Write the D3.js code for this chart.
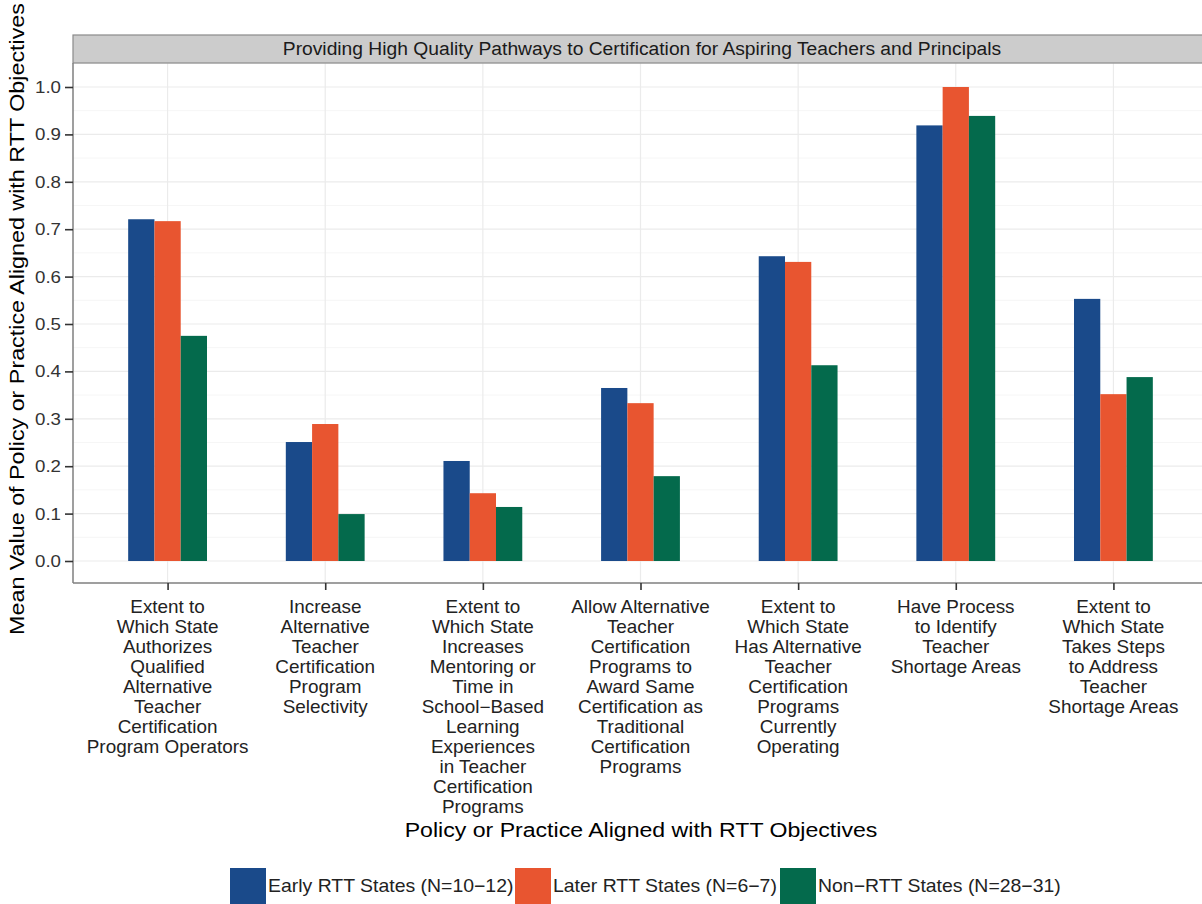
<!DOCTYPE html>
<html>
<head>
<meta charset="utf-8">
<script src="https://cdn.jsdelivr.net/npm/d3@7"></script>
<style>
  body { margin: 0; background: #fff; }
  svg { display: block; font-family: "Liberation Sans", Arial, sans-serif; }
</style>
</head>
<body>
<svg id="chart" width="1202" height="904"></svg>
<script>
// data
const categories = [
  'Extent to|Which State|Authorizes|Qualified|Alternative|Teacher|Certification|Program Operators',
  'Increase|Alternative|Teacher|Certification|Program|Selectivity',
  'Extent to|Which State|Increases|Mentoring or|Time in|School\u2212Based|Learning|Experiences|in Teacher|Certification|Programs',
  'Allow Alternative|Teacher|Certification|Programs to|Award Same|Certification as|Traditional|Certification|Programs',
  'Extent to|Which State|Has Alternative|Teacher|Certification|Programs|Currently|Operating',
  'Have Process|to Identify|Teacher|Shortage Areas',
  'Extent to|Which State|Takes Steps|to Address|Teacher|Shortage Areas'
];
const seriesNames = ['Early RTT States (N=10\u221212)', 'Later RTT States (N=6\u22127)', 'Non\u2212RTT States (N=28\u221231)'];
const seriesColors = ['#1a4a8a', '#e85530', '#046a4c'];
const earlyRTT = [0.721, 0.251, 0.211, 0.365, 0.643, 0.919, 0.553];
const laterRTT = [0.717, 0.289, 0.143, 0.333, 0.631, 1.0, 0.352];
const nonRTT   = [0.475, 0.099, 0.114, 0.179, 0.413, 0.939, 0.388];
const yTicks = [0, 0.1, 0.2, 0.3, 0.4, 0.5, 0.6, 0.7, 0.8, 0.9, 1.0];
const stripTitle = 'Providing High Quality Pathways to Certification for Aspiring Teachers and Principals';

const values = [earlyRTT, laterRTT, nonRTT];
const svg = d3.select('#chart');

const panel = { left: 73, right: 1208, top: 63, bottom: 583 };

// text in the source is a bit wider than Liberation Sans, so stretch it
function label(parent, tx, ty, size, sx, anchor, str) {
  return parent.append('g')
    .attr('transform', `translate(${tx},${ty}) scale(${sx},1)`)
    .append('text')
    .attr('text-anchor', anchor).attr('font-size', size)
    .text(str);
}

// discrete scale with ggplot-style 0.6 expansion
const step = (panel.right - panel.left) / (categories.length - 1 + 1.2);
const x = d3.scalePoint()
  .domain(d3.range(categories.length))
  .range([panel.left + 0.6 * step, panel.right - 0.6 * step]);
const y = d3.scaleLinear().domain([0, 1]).range([561, 87]);
const barW = step * 0.5 / 3;

// grid
const minor = d3.range(0.05, 1.06, 0.1);
svg.append('g').selectAll('line').data(minor).enter().append('line')
  .attr('x1', panel.left).attr('x2', panel.right)
  .attr('y1', d => y(d)).attr('y2', d => y(d))
  .attr('stroke', '#f6f6f6').attr('stroke-width', 1);
svg.append('g').selectAll('line').data(yTicks).enter().append('line')
  .attr('x1', panel.left).attr('x2', panel.right)
  .attr('y1', d => y(d)).attr('y2', d => y(d))
  .attr('stroke', '#ebebeb').attr('stroke-width', 1.2);
svg.append('g').selectAll('line').data(d3.range(categories.length)).enter().append('line')
  .attr('x1', d => x(d)).attr('x2', d => x(d))
  .attr('y1', panel.top).attr('y2', panel.bottom)
  .attr('stroke', '#ebebeb').attr('stroke-width', 1.2);

// bars
values.forEach((vals, si) => {
  svg.append('g').selectAll('rect').data(vals).enter().append('rect')
    .attr('x', (d, i) => x(i) - 1.5 * barW + si * barW)
    .attr('y', d => y(d))
    .attr('width', barW)
    .attr('height', d => y(0) - y(d))
    .attr('fill', seriesColors[si]);
});

// strip
svg.append('rect')
  .attr('x', panel.left).attr('y', 35)
  .attr('width', panel.right - panel.left).attr('height', 28)
  .attr('fill', '#cccccc').attr('stroke', '#8a8a8a').attr('stroke-width', 1.2);
label(svg, 642, 55, 18, 1.07, 'middle', stripTitle).attr('fill', '#1a1a1a');

// axis lines
svg.append('line').attr('x1', panel.left).attr('x2', panel.left)
  .attr('y1', panel.top).attr('y2', panel.bottom)
  .attr('stroke', '#7f7f7f').attr('stroke-width', 1.5);
svg.append('line').attr('x1', panel.left).attr('x2', panel.right)
  .attr('y1', panel.bottom).attr('y2', panel.bottom)
  .attr('stroke', '#7f7f7f').attr('stroke-width', 1.5);

// y axis (ticks from d3, labels drawn stretched)
const yAxis = svg.append('g')
  .attr('transform', `translate(${panel.left},0)`)
  .call(d3.axisLeft(y).tickValues(yTicks).tickFormat('').tickSize(8));
yAxis.select('.domain').remove();
yAxis.selectAll('line').attr('stroke', '#333').attr('stroke-width', 1.6);
const yLab = svg.append('g');
yTicks.forEach(t => {
  label(yLab, 61, y(t) + 6, 17, 1.1, 'end', d3.format('.1f')(t)).attr('fill', '#333');
});

// x axis
const xAxis = svg.append('g')
  .attr('transform', `translate(0,${panel.bottom})`)
  .call(d3.axisBottom(x).tickSize(7).tickFormat(''));
xAxis.select('.domain').remove();
xAxis.selectAll('line').attr('stroke', '#333').attr('stroke-width', 1.6);

categories.forEach((c, i) => {
  const t = label(svg, x(i), 613, 17.5, 1.08, 'middle', null).attr('fill', '#222');
  t.selectAll('tspan').data(c.split('|')).enter().append('tspan')
    .attr('x', 0).attr('dy', (s, j) => j === 0 ? 0 : 20)
    .text(s => s);
});

// axis titles
label(svg, 641, 837, 21, 1.1, 'middle', 'Policy or Practice Aligned with RTT Objectives').attr('fill', '#000');
svg.append('g')
  .attr('transform', 'translate(24,319) rotate(-90) scale(1.11,1)')
  .append('text')
  .attr('text-anchor', 'middle').attr('font-size', 21).attr('fill', '#000')
  .text('Mean Value of Policy or Practice Aligned with RTT Objectives');

// legend
const legendX = [230, 515, 780];
const lg = svg.append('g').selectAll('g').data(seriesNames).enter().append('g')
  .attr('transform', (d, i) => `translate(${legendX[i]},868)`);
lg.append('rect').attr('width', 36).attr('height', 36)
  .attr('fill', (d, i) => seriesColors[i]);
lg.each(function (d) {
  label(d3.select(this), 38, 24, 18, 1.08, 'start', d).attr('fill', '#222');
});
</script>
</body>
</html>
